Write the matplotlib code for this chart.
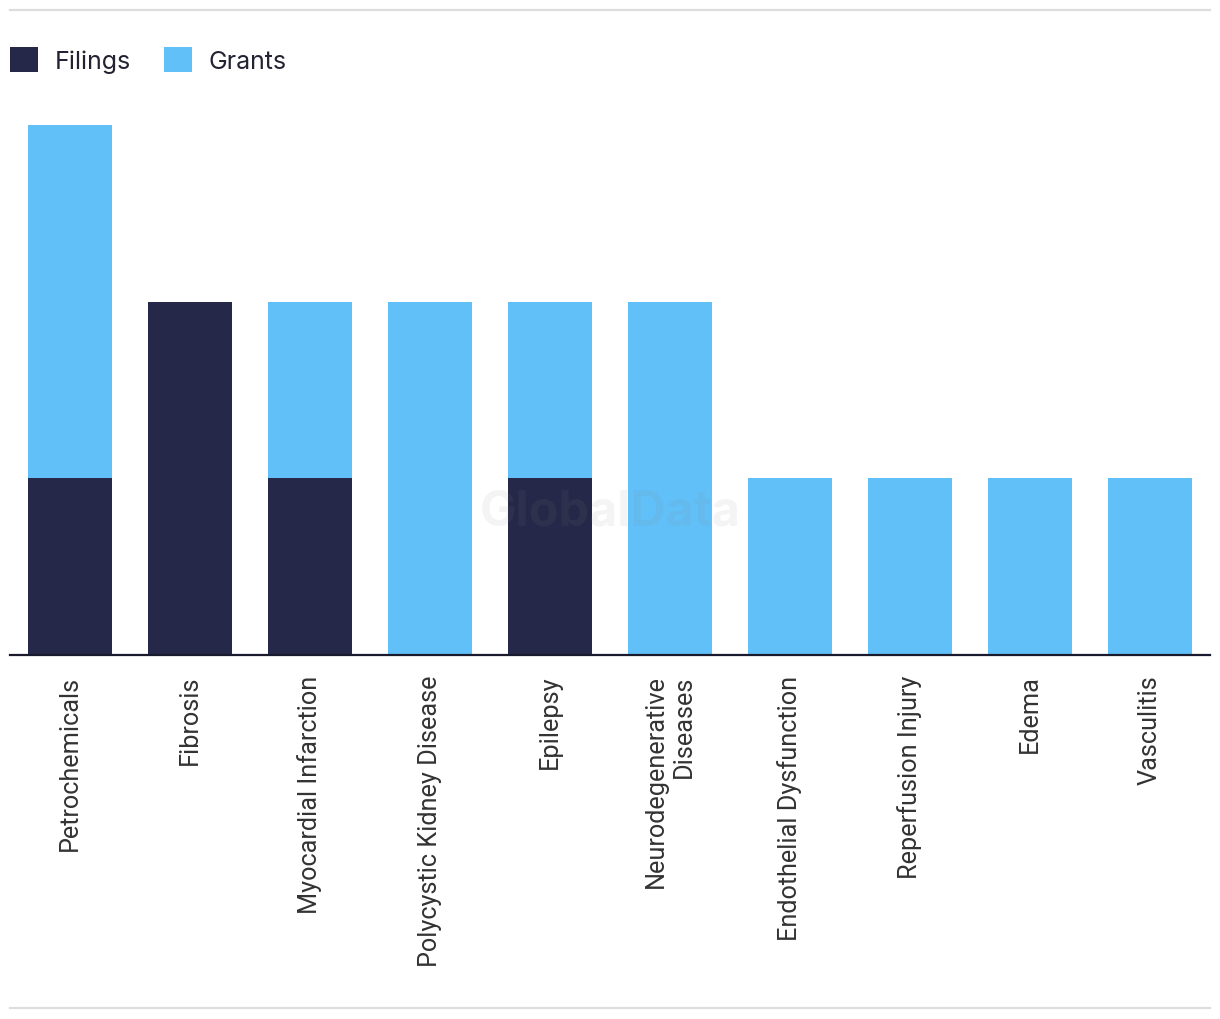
import matplotlib.pyplot as plt
import numpy as np
from matplotlib.lines import Line2D
from matplotlib.patches import Patch

categories = ['Petrochemicals', 'Fibrosis', 'Myocardial Infarction', 'Polycystic Kidney Disease',
              'Epilepsy', 'Neurodegenerative\nDiseases', 'Endothelial Dysfunction',
              'Reperfusion Injury', 'Edema', 'Vasculitis']
filings = [1, 2, 1, 0, 1, 0, 0, 0, 0, 0]
grants = [2, 0, 1, 2, 1, 2, 1, 1, 1, 1]

dark = '#262849'
light = '#62C0F8'

fig = plt.figure(figsize=(12.2, 10.2), dpi=100)
W, H = 1220, 1020
ax = fig.add_axes([10 / W, (H - 656) / H, 1200 / W, (656 - 126) / H])

x = np.arange(len(categories))
ax.bar(x, filings, width=0.7, color=dark, label='Filings')
ax.bar(x, grants, width=0.7, bottom=filings, color=light, label='Grants')

ax.set_xlim(-0.5, len(categories) - 0.5)
ax.set_ylim(0, 3)
ax.set_yticks([])
ax.set_xticks(x)
ax.set_xticklabels(categories, rotation=90, ha='center', va='top', multialignment='right',
                   fontsize=18.2, family='Roboto', color='#333333')
ax.tick_params(axis='x', length=0, pad=14)
for s in ['top', 'right', 'left']:
    ax.spines[s].set_visible(False)
ax.spines['bottom'].set_color('#1a1a2e')
ax.spines['bottom'].set_linewidth(1.6)

# watermark
ax.text(0.5, 0.27, 'GlobalData', transform=ax.transAxes, ha='center', va='center',
        fontsize=35, fontweight='bold', family='Inter', color='#888888', alpha=0.09)

# legend
handles = [Patch(facecolor=dark), Patch(facecolor=light)]
fig.legend(handles, ['Filings', 'Grants'], loc='center left', bbox_to_anchor=(10 / W, 1 - 61 / H),
           ncol=2, frameon=False, prop={'family': 'Inter', 'size': 18}, borderpad=0,
           borderaxespad=0, handlelength=1.12, handleheight=1.12, handletextpad=0.68,
           columnspacing=1.3, labelcolor='#222233')

# top and bottom rules
fig.add_artist(Line2D([10 / W, 1210 / W], [1 - 11 / H, 1 - 11 / H], color='#dddddd', lw=1.6,
                      transform=fig.transFigure))
fig.add_artist(Line2D([10 / W, 1210 / W], [1 - 1009 / H, 1 - 1009 / H], color='#dddddd', lw=1.6,
                      transform=fig.transFigure))

fig.savefig('out.png', dpi=100)
